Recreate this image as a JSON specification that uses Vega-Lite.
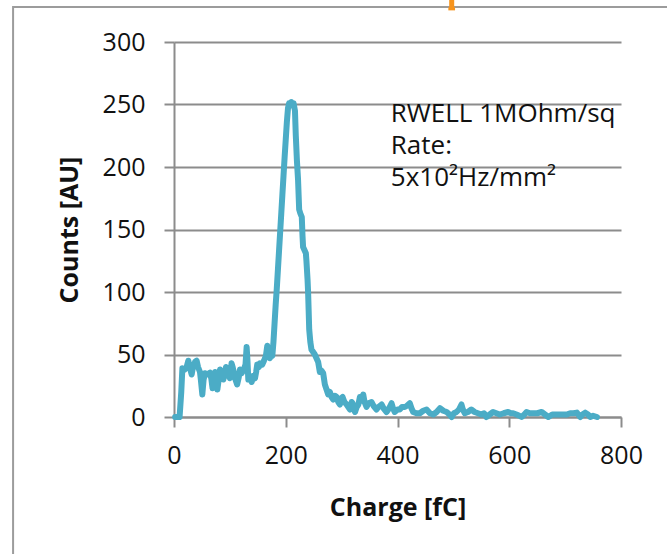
{
  "$schema": "https://vega.github.io/schema/vega-lite/v6.json",
  "width": 447,
  "height": 375,
  "autosize": {"type": "none"},
  "padding": {"left": 174, "top": 42, "right": 46, "bottom": 137},
  "background": "white",
  "config": {
    "view": {"stroke": null},
    "font": "Open Sans",
    "axis": {
      "domainColor": "#8c8c8c",
      "domainWidth": 2,
      "tickColor": "#8c8c8c",
      "tickWidth": 2,
      "tickSize": 10,
      "labelFont": "Open Sans",
      "labelFontSize": 25,
      "labelColor": "#111111",
      "labelFlush": false,
      "titleFont": "Open Sans",
      "titleFontSize": 25,
      "titleFontWeight": "bold",
      "titleColor": "#111111"
    },
    "axisX": {"grid": false, "labelPadding": 16, "titlePadding": 27},
    "axisY": {"grid": true, "gridColor": "#8c8c8c", "gridWidth": 2, "labelPadding": 19, "titlePadding": 20}
  },
  "datasets": {
    "spectrum": [
      {"charge": 2, "counts": 0}, {"charge": 10, "counts": 0}, {"charge": 13, "counts": 20}, {"charge": 15, "counts": 39},
      {"charge": 19, "counts": 38}, {"charge": 22.6, "counts": 40}, {"charge": 25.6, "counts": 45}, {"charge": 28, "counts": 40},
      {"charge": 31.6, "counts": 34}, {"charge": 34, "counts": 40}, {"charge": 37.6, "counts": 44}, {"charge": 40.5, "counts": 45},
      {"charge": 43, "counts": 40}, {"charge": 46.5, "counts": 36}, {"charge": 48, "counts": 30}, {"charge": 50.7, "counts": 18},
      {"charge": 53, "counts": 30}, {"charge": 55.4, "counts": 35}, {"charge": 60, "counts": 34}, {"charge": 64.4, "counts": 35.5},
      {"charge": 67, "counts": 30}, {"charge": 69, "counts": 23}, {"charge": 71, "counts": 30}, {"charge": 73.4, "counts": 36},
      {"charge": 75, "counts": 30}, {"charge": 77.6, "counts": 22}, {"charge": 80, "counts": 30}, {"charge": 82.4, "counts": 38},
      {"charge": 85, "counts": 35}, {"charge": 88.3, "counts": 30}, {"charge": 91, "counts": 35}, {"charge": 93, "counts": 40},
      {"charge": 96, "counts": 36}, {"charge": 100, "counts": 31}, {"charge": 103, "counts": 43}, {"charge": 105, "counts": 40},
      {"charge": 107.3, "counts": 35}, {"charge": 110, "counts": 30}, {"charge": 113, "counts": 26}, {"charge": 116, "counts": 32},
      {"charge": 118, "counts": 38}, {"charge": 121, "counts": 35}, {"charge": 125, "counts": 38}, {"charge": 128, "counts": 42},
      {"charge": 130, "counts": 56}, {"charge": 131.5, "counts": 45}, {"charge": 133, "counts": 30}, {"charge": 136, "counts": 31},
      {"charge": 139, "counts": 28}, {"charge": 142, "counts": 33}, {"charge": 145, "counts": 31}, {"charge": 147, "counts": 36},
      {"charge": 149, "counts": 42}, {"charge": 152, "counts": 40}, {"charge": 154, "counts": 43}, {"charge": 158, "counts": 42},
      {"charge": 161, "counts": 45}, {"charge": 164.5, "counts": 49}, {"charge": 167, "counts": 57}, {"charge": 169, "counts": 50},
      {"charge": 171.6, "counts": 47}, {"charge": 174, "counts": 50}, {"charge": 176, "counts": 49}, {"charge": 178, "counts": 60},
      {"charge": 180, "counts": 75}, {"charge": 182, "counts": 90}, {"charge": 184, "counts": 103}, {"charge": 186, "counts": 118},
      {"charge": 188, "counts": 133}, {"charge": 190, "counts": 148}, {"charge": 192, "counts": 163}, {"charge": 194, "counts": 178},
      {"charge": 196, "counts": 193}, {"charge": 198, "counts": 208}, {"charge": 200, "counts": 222}, {"charge": 202, "counts": 236},
      {"charge": 204, "counts": 247}, {"charge": 206, "counts": 251}, {"charge": 208, "counts": 250}, {"charge": 210, "counts": 252},
      {"charge": 212, "counts": 249}, {"charge": 214, "counts": 251}, {"charge": 216.5, "counts": 245}, {"charge": 218, "counts": 225},
      {"charge": 220, "counts": 205}, {"charge": 222, "counts": 190}, {"charge": 224, "counts": 166}, {"charge": 226, "counts": 163},
      {"charge": 228.7, "counts": 160}, {"charge": 230, "counts": 145}, {"charge": 231, "counts": 136}, {"charge": 234, "counts": 133},
      {"charge": 236, "counts": 131}, {"charge": 237, "counts": 125}, {"charge": 239, "counts": 110}, {"charge": 240, "counts": 100},
      {"charge": 241, "counts": 85}, {"charge": 242, "counts": 70}, {"charge": 244, "counts": 60}, {"charge": 246, "counts": 54},
      {"charge": 249, "counts": 52}, {"charge": 252, "counts": 50}, {"charge": 255, "counts": 47}, {"charge": 258, "counts": 44},
      {"charge": 261, "counts": 36}, {"charge": 264, "counts": 37}, {"charge": 267, "counts": 35}, {"charge": 270, "counts": 26},
      {"charge": 273, "counts": 22}, {"charge": 276, "counts": 18}, {"charge": 279, "counts": 20}, {"charge": 282, "counts": 16},
      {"charge": 285, "counts": 14}, {"charge": 288, "counts": 17}, {"charge": 291, "counts": 16}, {"charge": 294, "counts": 12},
      {"charge": 297, "counts": 10}, {"charge": 299, "counts": 15}, {"charge": 301.7, "counts": 16}, {"charge": 305, "counts": 12},
      {"charge": 309, "counts": 10}, {"charge": 312, "counts": 8}, {"charge": 315, "counts": 6}, {"charge": 318, "counts": 12},
      {"charge": 319.6, "counts": 11}, {"charge": 322, "counts": 6}, {"charge": 324, "counts": 4}, {"charge": 327, "counts": 8},
      {"charge": 330, "counts": 10}, {"charge": 332.7, "counts": 16}, {"charge": 335, "counts": 13}, {"charge": 338.7, "counts": 18},
      {"charge": 341, "counts": 12}, {"charge": 344.6, "counts": 8}, {"charge": 348, "counts": 11}, {"charge": 353.6, "counts": 12},
      {"charge": 357, "counts": 9}, {"charge": 362.5, "counts": 6}, {"charge": 366, "counts": 8}, {"charge": 371.5, "counts": 10},
      {"charge": 375, "counts": 7}, {"charge": 380.4, "counts": 4}, {"charge": 385, "counts": 7}, {"charge": 389.4, "counts": 11},
      {"charge": 392, "counts": 7}, {"charge": 395, "counts": 4}, {"charge": 400, "counts": 6}, {"charge": 404, "counts": 6},
      {"charge": 408, "counts": 8}, {"charge": 413, "counts": 8}, {"charge": 417, "counts": 9}, {"charge": 422, "counts": 11},
      {"charge": 425, "counts": 7}, {"charge": 428, "counts": 4}, {"charge": 434, "counts": 3}, {"charge": 440, "counts": 3},
      {"charge": 446, "counts": 5}, {"charge": 452, "counts": 6}, {"charge": 458, "counts": 3}, {"charge": 464, "counts": 2},
      {"charge": 470, "counts": 4}, {"charge": 476, "counts": 7}, {"charge": 482, "counts": 5}, {"charge": 488, "counts": 4},
      {"charge": 493, "counts": 2}, {"charge": 497, "counts": 0}, {"charge": 501, "counts": 3}, {"charge": 505.6, "counts": 4},
      {"charge": 510, "counts": 6}, {"charge": 514.5, "counts": 10}, {"charge": 517, "counts": 6}, {"charge": 520.5, "counts": 3},
      {"charge": 526, "counts": 4}, {"charge": 532, "counts": 6}, {"charge": 538, "counts": 4}, {"charge": 544, "counts": 3},
      {"charge": 550, "counts": 2}, {"charge": 555, "counts": 3}, {"charge": 559, "counts": 0}, {"charge": 565, "counts": 2},
      {"charge": 571, "counts": 4}, {"charge": 577, "counts": 3}, {"charge": 583, "counts": 2}, {"charge": 590, "counts": 3},
      {"charge": 598, "counts": 4}, {"charge": 603, "counts": 3}, {"charge": 607, "counts": 3}, {"charge": 613, "counts": 2},
      {"charge": 618, "counts": 1}, {"charge": 622, "counts": 0}, {"charge": 627, "counts": 2}, {"charge": 631, "counts": 4},
      {"charge": 637, "counts": 3}, {"charge": 643, "counts": 3}, {"charge": 650, "counts": 3}, {"charge": 658, "counts": 4},
      {"charge": 664, "counts": 2}, {"charge": 670, "counts": 0}, {"charge": 677, "counts": 2}, {"charge": 685, "counts": 2},
      {"charge": 691, "counts": 2}, {"charge": 697, "counts": 2}, {"charge": 703, "counts": 2}, {"charge": 709, "counts": 3},
      {"charge": 715, "counts": 3}, {"charge": 721, "counts": 3.5}, {"charge": 727, "counts": 0}, {"charge": 731, "counts": 2},
      {"charge": 736, "counts": 3.5}, {"charge": 741, "counts": 2}, {"charge": 745, "counts": 0}, {"charge": 750, "counts": 1},
      {"charge": 757, "counts": 0}
    ]
  },
  "layer": [
    {
      "description": "Chart frame",
      "data": {"values": [{}]},
      "mark": {"type": "rect", "filled": false, "stroke": "#9c9c9c", "strokeWidth": 2, "clip": false},
      "encoding": {
        "x": {"datum": -288, "type": "quantitative", "scale": {"domain": [0, 800]}},
        "x2": {"datum": 900},
        "y": {"datum": 328, "type": "quantitative", "scale": {"domain": [0, 300]}},
        "y2": {"datum": -150}
      }
    },
    {
      "data": {"name": "spectrum"},
      "mark": {"type": "line", "color": "#4BACC6", "strokeWidth": 6, "strokeJoin": "round", "strokeCap": "round"},
      "encoding": {
        "x": {
          "field": "charge", "type": "quantitative",
          "scale": {"domain": [0, 800]},
          "axis": {"title": "Charge [fC]", "values": [0, 200, 400, 600, 800]}
        },
        "y": {
          "field": "counts", "type": "quantitative",
          "scale": {"domain": [0, 300]},
          "axis": {"title": "Counts [AU]", "values": [0, 50, 100, 150, 200, 250, 300]}
        }
      }
    },
    {
      "data": {"values": [{}]},
      "mark": {"type": "text", "align": "left", "baseline": "alphabetic", "fontSize": 26, "lineHeight": 32, "color": "#111111", "font": "Open Sans"},
      "encoding": {
        "x": {"datum": 388, "type": "quantitative"},
        "y": {"datum": 236, "type": "quantitative"},
        "text": {"value": ["RWELL 1MOhm/sq", "Rate:", "5x10²Hz/mm²"]}
      }
    },
    {
      "description": "Clipped marker above the plot",
      "data": {"values": [{}]},
      "mark": {"type": "rule", "color": "#F7941D", "strokeWidth": 5, "clip": false},
      "encoding": {
        "x": {"datum": 497, "type": "quantitative"},
        "y": {"datum": 326, "type": "quantitative"},
        "y2": {"datum": 345}
      }
    },
    {
      "data": {"values": [{}]},
      "mark": {"type": "rule", "color": "#F7941D", "strokeWidth": 3, "clip": false},
      "encoding": {
        "x": {"datum": 491, "type": "quantitative"},
        "x2": {"datum": 503},
        "y": {"datum": 326.5, "type": "quantitative"}
      }
    }
  ]
}
